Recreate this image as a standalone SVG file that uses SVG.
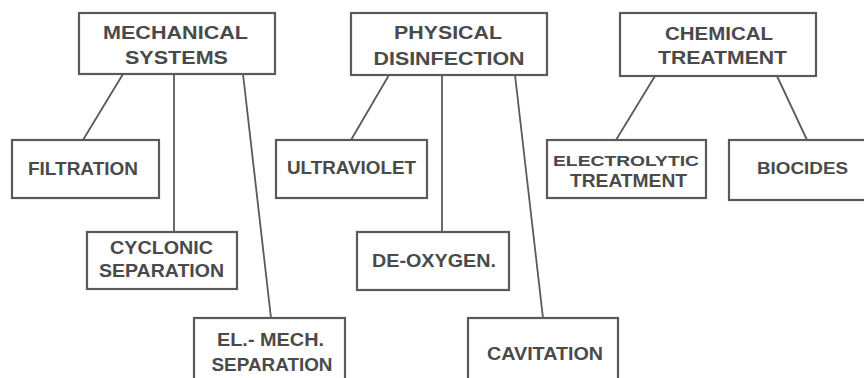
<svg xmlns="http://www.w3.org/2000/svg" width="864" height="378" viewBox="0 0 864 378">
<style>
.box{fill:#fff;stroke:#5a5a5a;stroke-width:2.2}
.ln{stroke:#5a5a5a;stroke-width:1.8;fill:none}
text{font-family:"Liberation Sans",Arial,sans-serif;font-weight:bold;fill:#4a4a4a;text-anchor:middle}
.t{font-size:19px}
.c{font-size:18px}
</style>
<rect width="864" height="378" fill="#fff"/>
<g id="connectors">
<line class="ln" x1="123" y1="74" x2="83" y2="140"/>
<line class="ln" x1="174" y1="74" x2="174" y2="232"/>
<line class="ln" x1="243" y1="74" x2="271" y2="318"/>
<line class="ln" x1="389" y1="75" x2="351" y2="140"/>
<line class="ln" x1="442" y1="75" x2="442" y2="232"/>
<line class="ln" x1="515" y1="75" x2="543" y2="318"/>
<line class="ln" x1="655" y1="76" x2="616" y2="140"/>
<line class="ln" x1="777" y1="76" x2="807" y2="140"/>
</g>
<g id="mechanical">
<rect class="box" x="79" y="13" width="196" height="61"/>
<text class="t" x="175.5" y="39" textLength="145" lengthAdjust="spacingAndGlyphs">MECHANICAL</text>
<text class="t" x="176.5" y="64" textLength="103" lengthAdjust="spacingAndGlyphs">SYSTEMS</text>
</g>
<g id="filtration">
<rect class="box" x="12" y="140" width="147" height="58"/>
<text class="c" x="83" y="175" textLength="110" lengthAdjust="spacingAndGlyphs">FILTRATION</text>
</g>
<g id="cyclonic">
<rect class="box" x="87" y="232" width="150" height="57"/>
<text class="c" x="161.5" y="254" textLength="103" lengthAdjust="spacingAndGlyphs">CYCLONIC</text>
<text class="c" x="161.5" y="277" textLength="125" lengthAdjust="spacingAndGlyphs">SEPARATION</text>
</g>
<g id="elmech">
<rect class="box" x="194" y="318" width="151" height="64"/>
<text class="c" x="270.5" y="346" textLength="107" lengthAdjust="spacingAndGlyphs">EL.- MECH.</text>
<text class="c" x="272" y="371" textLength="121" lengthAdjust="spacingAndGlyphs">SEPARATION</text>
</g>
<g id="physical">
<rect class="box" x="351" y="13" width="196" height="62"/>
<text class="t" x="448" y="39" textLength="108" lengthAdjust="spacingAndGlyphs">PHYSICAL</text>
<text class="t" x="449" y="65" textLength="151" lengthAdjust="spacingAndGlyphs">DISINFECTION</text>
</g>
<g id="ultraviolet">
<rect class="box" x="276" y="140" width="151" height="58"/>
<text class="c" x="351.5" y="174" textLength="129" lengthAdjust="spacingAndGlyphs">ULTRAVIOLET</text>
</g>
<g id="deoxygen">
<rect class="box" x="357" y="232" width="152" height="58"/>
<text class="c" x="434" y="267" textLength="124" lengthAdjust="spacingAndGlyphs">DE-OXYGEN.</text>
</g>
<g id="cavitation">
<rect class="box" x="468" y="318" width="150" height="64"/>
<text class="c" x="545" y="360" textLength="116" lengthAdjust="spacingAndGlyphs">CAVITATION</text>
</g>
<g id="chemical">
<rect class="box" x="620" y="13" width="196" height="63"/>
<text class="t" x="719" y="40" textLength="108" lengthAdjust="spacingAndGlyphs">CHEMICAL</text>
<text class="t" x="722.5" y="64" textLength="129" lengthAdjust="spacingAndGlyphs">TREATMENT</text>
</g>
<g id="electrolytic">
<rect class="box" x="547" y="140" width="159" height="58"/>
<text class="c" x="626" y="166" style="font-size:15px" textLength="146" lengthAdjust="spacingAndGlyphs">ELECTROLYTIC</text>
<text class="c" x="628.5" y="187" textLength="117" lengthAdjust="spacingAndGlyphs">TREATMENT</text>
</g>
<g id="biocides">
<rect class="box" x="729" y="140" width="140" height="60"/>
<text class="c" x="802.5" y="174" style="font-size:16px" textLength="91" lengthAdjust="spacingAndGlyphs">BIOCIDES</text>
</g>
</svg>
